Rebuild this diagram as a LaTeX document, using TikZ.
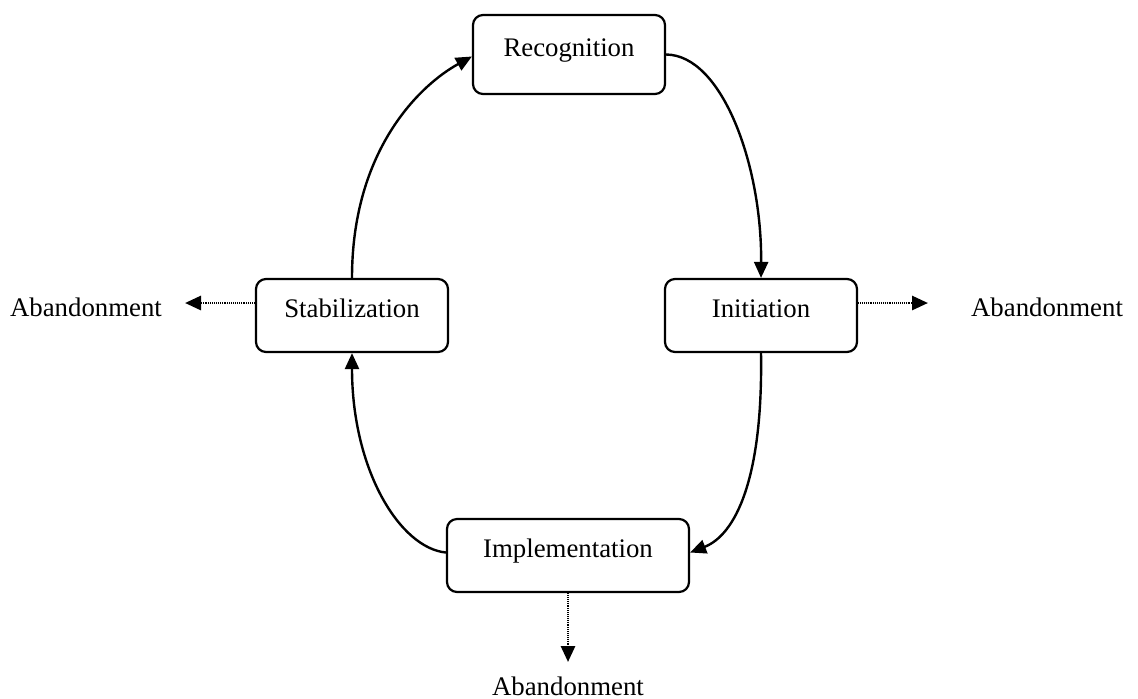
\documentclass[tikz,border=0pt]{standalone}
\usepackage{fontspec}
\setmainfont{Liberation Serif}
\usetikzlibrary{arrows.meta}
\begin{document}
\begin{tikzpicture}[x=0.5pt,y=0.5pt,
  every node/.style={font=\fontsize{13.4pt}{16pt}\selectfont},
  stage/.style={draw, line width=1.1pt, rounded corners=5pt, inner sep=0pt,
    minimum width=96pt, minimum height=36.5pt, text height=10pt, text depth=8.5pt},
  flow/.style={line width=1.2pt, -{Triangle[length=8pt,width=7pt]}},
  quit/.style={line width=1.4pt, dash pattern=on 0.5pt off 0.45pt,
    -{Triangle[length=8pt,width=7pt]}}]
\useasboundingbox (0,0) rectangle (1138,-698);

% stages of the cycle
\node[stage, minimum height=39.5pt] (rec) at (569,-54.5) {Recognition};
\node[stage] (stab) at (352,-315.5) {Stabilization};
\node[stage] (init) at (761,-315.5) {Initiation};
\node[stage, minimum width=121pt] (impl) at (568,-555.5) {Implementation};

% exits
\node (abL) at (86,-307) {Abandonment};
\node (abR) at (1047,-307) {Abandonment};
\node (abB) at (568,-686) {Abandonment};
\coordinate (tipL) at (185,-303);
\coordinate (tipR) at (928,-303);
\coordinate (tipB) at (568,-662);

% cycle
\draw[flow] (stab.north) .. controls (352,-150) and (420,-85) .. ([yshift=-1pt]rec.west);
\draw[flow] (rec.east) .. controls (722,-55) and (762,-165) .. (init.north);
\draw[flow] (init.south) .. controls (763,-480) and (735,-535) .. ([yshift=1.5pt]impl.east);
\draw[flow] ([yshift=1.5pt]impl.west) .. controls (400,-548) and (352,-470) .. (stab.south);

% abandonment paths
\draw[quit] ([yshift=6.25pt]stab.west) -- (tipL);
\draw[quit] ([yshift=6.25pt]init.east) -- (tipR);
\draw[quit] (impl.south) -- (tipB);
\end{tikzpicture}
\end{document}
